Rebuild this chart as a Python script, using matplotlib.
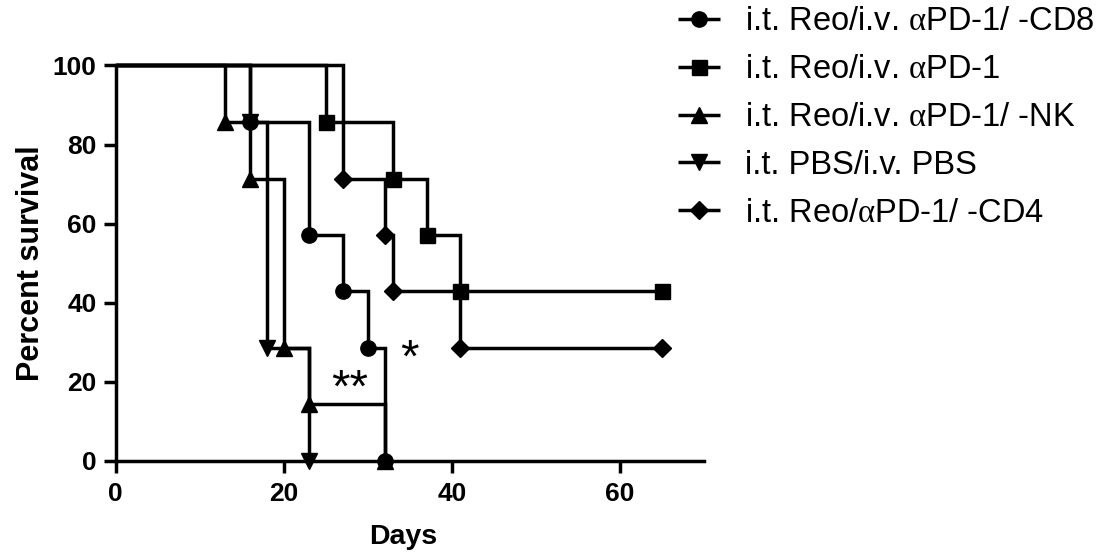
import matplotlib
matplotlib.use("Agg")
import matplotlib.pyplot as plt
from matplotlib.legend_handler import HandlerTuple

plt.rcParams['font.family'] = ['Liberation Sans', 'DejaVu Sans']
plt.rcParams['mathtext.fontset'] = 'custom'
plt.rcParams['mathtext.rm'] = 'Liberation Serif'
plt.rcParams['mathtext.it'] = 'Liberation Serif:italic'

# ---- data ----
labels = [
    'i.t. Reo/i.v. $\\mathrm{\\alpha}$PD-1/ -CD8',
    'i.t. Reo/i.v. $\\mathrm{\\alpha}$PD-1',
    'i.t. Reo/i.v. $\\mathrm{\\alpha}$PD-1/ -NK',
    'i.t. PBS/i.v. PBS',
    'i.t. Reo/$\\mathrm{\\alpha}$PD-1/ -CD4',
]
days_cd8 = [0, 16, 23, 27, 30, 32]
surv_cd8 = [100, 85.7, 57.1, 42.9, 28.6, 0]
days_pd1 = [0, 25, 33, 37, 41, 65]
surv_pd1 = [100, 85.7, 71.4, 57.1, 42.9, 42.9]
days_nk = [0, 13, 16, 20, 23, 32]
surv_nk = [100, 85.7, 71.4, 28.6, 14.3, 0]
days_pbs = [0, 16, 18, 23]
surv_pbs = [100, 85.7, 28.6, 0]
days_cd4 = [0, 27, 32, 33, 41, 65]
surv_cd4 = [100, 71.4, 57.1, 42.9, 28.6, 28.6]

xticks = [0, 20, 40, 60]
yticks = [0, 20, 40, 60, 80, 100]

series = [
    (days_cd8, surv_cd8, 'o', 11.0),
    (days_pd1, surv_pd1, 's', 10.8),
    (days_nk, surv_nk, '^', 12.0),
    (days_pbs, surv_pbs, 'v', 12.0),
    (days_cd4, surv_cd4, 'D', 9.5),
]

fig = plt.figure(figsize=(11.04, 5.6), dpi=100)
ax = fig.add_axes([115.7 / 1104, 99 / 560, (704 - 115.7) / 1104, (461 - 65.5) / 560])

LW = 2.5
handles = []
for (d, s, m, ms) in series:
    ln, = ax.plot(d, s, drawstyle='steps-post', color='black', lw=LW,
                  clip_on=False, solid_capstyle='butt', solid_joinstyle='miter')
    mk, = ax.plot(d[1:], s[1:], linestyle='none', marker=m, ms=ms,
                  color='black', clip_on=False)
    handles.append((ln, mk))

ax.set_xlim(0, 70)
ax.set_ylim(0, 100)
ax.set_xticks(xticks)
ax.set_yticks(yticks)
for sp in ['top', 'right']:
    ax.spines[sp].set_visible(False)
for sp in ['left', 'bottom']:
    ax.spines[sp].set_linewidth(LW)
ax.tick_params(axis='both', direction='out', length=8.8, width=LW, labelsize=19)
ax.tick_params(axis='x', pad=6)
ax.tick_params(axis='y', pad=5)
for lab in ax.get_xticklabels() + ax.get_yticklabels():
    lab.set_fontweight('bold')

ax.set_xlabel('Days', fontsize=20.5, fontweight='bold')
ax.set_ylabel('Percent survival', fontsize=22, fontweight='bold')
ax.xaxis.set_label_coords((403 - 115.7) / (704 - 115.7), -(537 - 461) / (461 - 65.5))
ax.yaxis.set_label_coords(-(115.7 - 31) / (704 - 115.7), 0.5)
ax.xaxis.label.set_va('center')
ax.yaxis.label.set_va('center')

ax.text(27.9, 19.2, '**', fontsize=34, ha='center', va='center_baseline')
ax.text(35.0, 27.0, '*', fontsize=34, ha='center', va='center_baseline')

leg = fig.legend(handles, labels, loc='upper left',
                 bbox_to_anchor=(678 / 1104, 1 - 6 / 560),
                 frameon=False, fontsize=23.5, handlelength=1.3,
                 handletextpad=0.75, labelspacing=0.52, borderpad=0,
                 borderaxespad=0,
                 handler_map={tuple: HandlerTuple(ndivide=1, pad=0)})

fig.savefig('out.png', dpi=100)
